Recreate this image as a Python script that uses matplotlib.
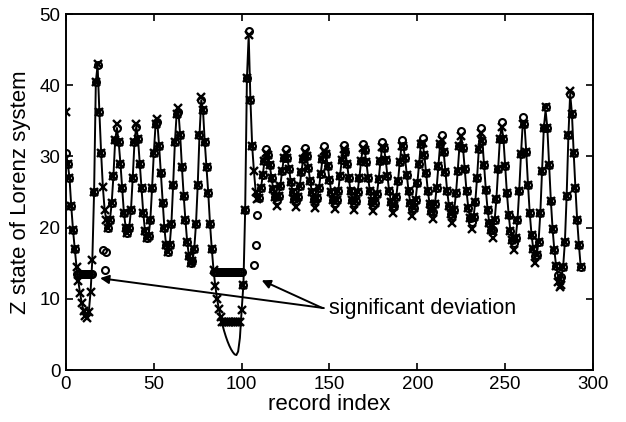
import matplotlib
matplotlib.use("Agg")
import matplotlib.pyplot as plt

plt.rcParams['font.family'] = ['Liberation Sans', 'DejaVu Sans']

# True Z state of the Lorenz system, one value per record
z_line = [
    30.5, 29.0, 27.0, 23.0, 19.7, 17.0, 14.5, 12.5, 10.8, 9.4,      # 0-9
    8.3, 7.6, 7.3, 8.2, 11.0, 15.5, 25.0, 40.5, 42.8, 36.3,          # 10-19
    30.5, 25.7, 22.5, 21.0, 20.0, 21.0, 23.4, 27.2, 32.3, 34.0,      # 20-29
    32.0, 29.0, 25.5, 22.0, 20.0, 19.2, 20.0, 22.5, 27.0, 32.0,      # 30-39
    34.2, 32.5, 29.0, 25.5, 22.0, 19.5, 18.5, 18.8, 21.0, 25.5,      # 40-49
    30.5, 34.5, 34.8, 31.5, 27.6, 23.5, 20.0, 17.5, 16.6, 17.5,      # 50-59
    20.5, 26.0, 32.0, 36.0, 36.3, 33.0, 28.5, 24.5, 21.0, 18.0,      # 60-69
    16.0, 15.0, 15.3, 17.0, 20.5, 26.0, 33.0, 37.9, 36.5, 32.0,      # 70-79
    28.5, 24.8, 20.5, 17.0, 14.0, 11.8, 10.0, 8.6, 7.4, 6.4,         # 80-89
    5.5, 4.7, 4.0, 3.4, 2.9, 2.5, 2.2, 2.1, 2.6, 4.5,                # 90-99
    8.4, 12.0, 22.5, 41.0, 47.0, 37.9, 31.4, 27.9, 25.0, 24.0,       # 100-109
    24.2, 25.5, 27.4, 29.3, 30.5, 30.2, 28.8, 27.0, 25.4, 24.3,      # 110-119
    23.9, 24.4, 25.9, 27.9, 29.8, 30.5, 29.8, 28.2, 26.4, 25.0,      # 120-129
    24.0, 23.8, 24.3, 25.8, 27.8, 29.7, 30.6, 30.0, 28.4, 26.5,      # 130-139
    25.0, 24.0, 23.7, 24.1, 25.5, 27.5, 29.6, 30.8, 30.3, 28.7,      # 140-149
    26.7, 25.0, 23.9, 23.5, 23.9, 25.2, 27.3, 29.5, 31.0, 30.6,      # 150-159
    29.0, 26.9, 25.1, 23.9, 23.4, 23.7, 25.0, 27.0, 29.4, 31.2,      # 160-169
    30.9, 29.2, 27.0, 25.1, 23.8, 23.2, 23.5, 24.7, 26.8, 29.3,      # 170-179
    31.3, 31.2, 29.5, 27.2, 25.1, 23.6, 22.9, 23.1, 24.3, 26.5,      # 180-189
    29.2, 31.5, 31.5, 29.8, 27.4, 25.1, 23.5, 22.6, 22.7, 23.9,      # 190-199
    26.2, 29.0, 31.7, 31.9, 30.2, 27.6, 25.1, 23.3, 22.3, 22.2,      # 200-209
    23.3, 25.6, 28.7, 31.8, 32.3, 30.6, 27.8, 25.1, 23.1, 21.9,      # 210-219
    21.6, 22.5, 24.8, 28.0, 31.5, 32.8, 31.2, 28.2, 25.1, 22.8,      # 220-229
    21.3, 20.8, 21.5, 23.6, 27.0, 31.0, 33.3, 32.2, 28.8, 25.3,      # 230-239
    22.5, 20.6, 19.6, 19.6, 21.0, 24.0, 28.2, 32.5, 34.2, 32.5,      # 240-249
    28.6, 24.8, 21.8, 19.5, 18.2, 17.8, 18.6, 21.0, 25.2, 30.3,      # 250-259
    34.6, 34.5, 30.6, 26.0, 22.0, 19.0, 17.0, 16.0, 16.2, 18.0,      # 260-269
    22.0, 28.0, 34.0, 36.5, 34.0, 28.8, 23.8, 19.8, 16.8, 14.6,      # 270-279
    13.3, 12.8, 13.0, 14.5, 18.0, 24.5, 33.0, 38.8, 36.0, 30.5,      # 280-289
    25.5, 21.0, 17.5, 14.5,                                          # 290-293
]
record = list(range(len(z_line)))

# 'x' series: equal to the line except where the chart shows otherwise
x_overrides = {
    0: 36.3, 18: 43.0, 29: 34.5, 40: 34.6, 52: 35.2, 64: 36.8, 77: 38.3,
    89: 6.8, 90: 6.8, 91: 6.8, 92: 6.8, 93: 6.8, 94: 6.8, 95: 6.8,
    96: 6.8, 97: 6.8, 98: 6.8, 99: 6.8,
    105: 37.9, 120: 23.0, 131: 22.9, 142: 22.8, 153: 22.6, 164: 22.5,
    175: 22.3, 186: 22.0, 197: 21.6, 209: 21.2, 220: 20.6, 231: 19.8,
    243: 18.6, 255: 16.8, 267: 15.0, 273: 37.0, 280: 12.3, 281: 11.6,
    282: 12.0, 287: 39.2,
}
# 'o' series: equal to the line except where the chart shows otherwise
o_overrides = {
    6: 13.5, 7: 13.5, 8: 13.5, 9: 13.5, 10: 13.5, 11: 13.5, 12: 13.5,
    13: 13.5, 14: 13.5, 15: 13.5,
    21: 16.8, 22: 14.1, 23: 16.6,
    84: 13.8, 85: 13.8, 86: 13.8, 87: 13.8, 88: 13.8, 89: 13.8, 90: 13.8,
    91: 13.8, 92: 13.8, 93: 13.8, 94: 13.8, 95: 13.8, 96: 13.8, 97: 13.8,
    98: 13.8, 99: 13.8, 100: 13.8,
    104: 47.6, 107: 14.7, 108: 17.6, 109: 21.8,
    114: 31.0, 125: 31.0, 136: 31.2, 147: 31.4, 158: 31.6, 169: 31.8,
    180: 32.0, 191: 32.3, 203: 32.6, 214: 33.0, 225: 33.5, 236: 34.0,
    248: 34.8, 260: 35.6, 273: 36.9,
}

z_x = [x_overrides.get(i, v) for i, v in enumerate(z_line)]
z_o = [o_overrides.get(i, v) for i, v in enumerate(z_line)]

x_ticks = [0, 50, 100, 150, 200, 250, 300]
y_ticks = [0, 10, 20, 30, 40, 50]

fig = plt.figure(figsize=(6.26, 4.22), dpi=100)
ax = fig.add_axes([0.1054, 0.1232, 0.8419, 0.8436])

ax.plot(record, z_line, color='black', lw=1.4, zorder=2)
ax.plot(record, z_x, linestyle='none', marker='x', color='black',
        ms=6.2, mew=1.7, zorder=3)
ax.plot(record, z_o, linestyle='none', marker='o', mfc='none', mec='black',
        ms=5.0, mew=1.5, zorder=4)

ax.set_xlim(0, 300)
ax.set_ylim(0, 50)
ax.set_xticks(x_ticks)
ax.set_yticks(y_ticks)
ax.tick_params(direction='in', top=True, right=True, length=5, width=1.2,
               labelsize=13.5, pad=4)
for s in ax.spines.values():
    s.set_linewidth(1.4)

ax.set_xlabel('record index', fontsize=16, labelpad=1)
ax.set_ylabel('Z state of Lorenz system', fontsize=16, labelpad=6)

arrow_kw = dict(arrowstyle='-|>', color='black', lw=1.4, mutation_scale=13,
                shrinkA=0, shrinkB=0)
ax.annotate('significant deviation', xy=(19.4, 12.9), xytext=(150, 8.7),
            fontsize=15.5, va='center', ha='left',
            arrowprops=dict(arrow_kw, relpos=(-0.03, 0.5)))
ax.annotate('', xy=(111.4, 12.6), xytext=(146, 8.7),
            arrowprops=arrow_kw)

fig.savefig('out.png', dpi=100)
